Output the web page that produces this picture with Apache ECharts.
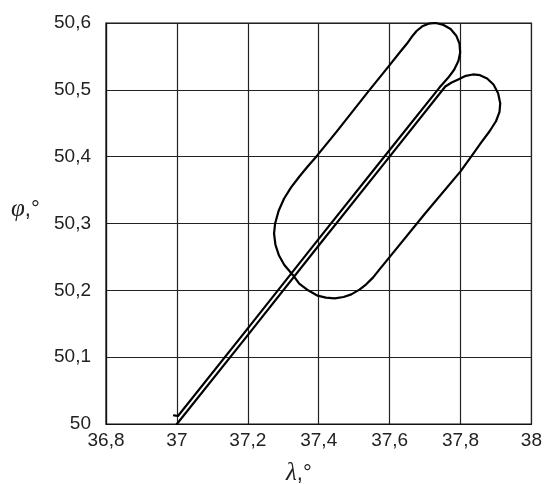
<!DOCTYPE html>
<html><head><meta charset="utf-8">
<script src="https://cdn.jsdelivr.net/npm/echarts@6/dist/echarts.min.js"></script>
<style>html,body{margin:0;padding:0;background:#fff}#c{width:545px;height:484px}</style>
</head><body><div id="c"></div>
<script>
// Tick values
const xTicks = [36.8, 37, 37.2, 37.4, 37.6, 37.8, 38];
const yTicks = [50, 50.1, 50.2, 50.3, 50.4, 50.5, 50.6];

// Trajectory (single continuous curve) — longitude λ
const curveLon = [
  36.992, 37.003, 37.200, 37.400, 37.600, 37.740,
  37.765, 37.782, 37.794, 37.799, 37.797, 37.788, 37.772, 37.752, 37.730, 37.710,
  37.692, 37.676, 37.662, 37.648, 37.630, 37.600, 37.539, 37.450, 37.393,
  37.370, 37.345, 37.322, 37.302, 37.287, 37.277, 37.274, 37.278, 37.288, 37.303,
  37.327, 37.345, 37.370, 37.397, 37.420, 37.445, 37.470, 37.492, 37.515, 37.534,
  37.553, 37.571, 37.605, 37.700, 37.800,
  37.830, 37.858, 37.882, 37.900, 37.910, 37.912, 37.906, 37.893, 37.875, 37.855,
  37.835, 37.815, 37.795, 37.775, 37.757,
  37.600, 37.400, 37.200, 37.000
];
// latitude φ
const curveLat = [
  50.013, 50.012, 50.143, 50.277, 50.410, 50.503,
  50.518, 50.530, 50.543, 50.556, 50.569, 50.581, 50.591, 50.597, 50.600, 50.599,
  50.595, 50.588, 50.579, 50.5685, 50.557, 50.537, 50.497, 50.437, 50.400,
  50.386, 50.370, 50.354, 50.337, 50.319, 50.300, 50.285, 50.268, 50.252, 50.238,
  50.223, 50.210, 50.200, 50.192, 50.189, 50.188, 50.190, 50.194, 50.201, 50.209,
  50.219, 50.231, 50.253, 50.315, 50.378,
  50.400, 50.421, 50.438, 50.453, 50.467, 50.480, 50.495, 50.508, 50.517, 50.522,
  50.523, 50.521, 50.516, 50.511, 50.505,
  50.400, 50.267, 50.133, 50.000
];

const fmt = v => String(+(+v).toFixed(1)).replace('.', ',');
const data = curveLon.map((x, i) => [x, curveLat[i]]);

const chart = echarts.init(document.getElementById('c'), null, {renderer: 'canvas'});
chart.setOption({
  backgroundColor: '#fff',
  animation: false,
  grid: {left: 106, right: 13, top: 23, bottom: 60, show: true, borderColor: '#111', borderWidth: 1.2, containLabel: false},
  xAxis: {
    type: 'value', min: xTicks[0], max: xTicks[xTicks.length - 1], interval: 0.2,
    axisLine: {show: true, lineStyle: {color: '#111', width: 1.2}},
    axisTick: {show: false},
    splitLine: {show: true, lineStyle: {color: '#222', width: 1.2}},
    axisLabel: {formatter: fmt, color: '#222', fontFamily: 'Liberation Sans', fontSize: 19, margin: 7, showMinLabel: true, showMaxLabel: true}
  },
  yAxis: {
    type: 'value', min: yTicks[0], max: yTicks[yTicks.length - 1], interval: 0.1,
    axisLine: {show: true, lineStyle: {color: '#111', width: 1.2}},
    axisTick: {show: false},
    splitLine: {show: true, lineStyle: {color: '#222', width: 1.2}},
    axisLabel: {formatter: fmt, color: '#222', fontFamily: 'Liberation Sans', fontSize: 19, margin: 15, showMinLabel: true, showMaxLabel: true}
  },
  graphic: [
    {type: 'text', left: 11, top: 197, style: {
      text: '{i|φ}{n|,°}',
      rich: {i: {fontFamily: 'Liberation Serif', fontStyle: 'italic', fontSize: 25, fill: '#222'},
             n: {fontFamily: 'Liberation Sans', fontSize: 22, fill: '#222'}}
    }},
    {type: 'text', left: 286, top: 461, style: {
      text: '{i|λ}{n|,°}',
      rich: {i: {fontFamily: 'Liberation Serif', fontStyle: 'italic', fontSize: 25, fill: '#222'},
             n: {fontFamily: 'Liberation Sans', fontSize: 22, fill: '#222'}}
    }}
  ],
  series: [{
    type: 'line', data: data, showSymbol: false, smooth: false,
    lineStyle: {color: '#000', width: 2.2, join: 'round', cap: 'round'}
  }]
});
</script></body></html>
